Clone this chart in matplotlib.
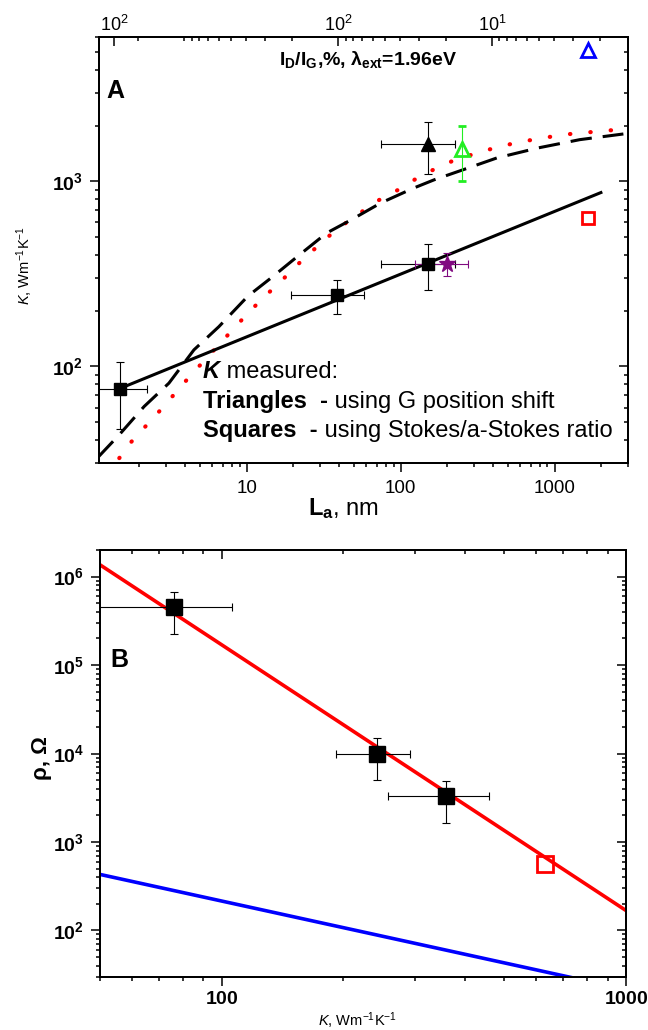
import matplotlib
matplotlib.use("Agg")
import numpy as np
import matplotlib.pyplot as plt
from matplotlib.ticker import (FixedLocator, FixedFormatter, NullFormatter,
                               LogLocator, FuncFormatter)

plt.rcParams['font.family'] = ['Liberation Sans', 'DejaVu Sans']
plt.rcParams['mathtext.fontset'] = 'custom'
plt.rcParams['mathtext.rm'] = 'Liberation Sans'
plt.rcParams['mathtext.it'] = 'Liberation Sans:italic'
plt.rcParams['mathtext.bf'] = 'Liberation Sans:bold'
plt.rcParams['mathtext.default'] = 'regular'

# ---------------- Panel A: thermal conductivity vs crystallite size ----------------
# Stokes/anti-Stokes ratio measurements (squares)
sq_La = [1.5, 38.5, 150]
sq_La_err = [0.75, 19, 75]
sq_K = [76, 242, 358]
sq_K_err = [30, 50, 100]

# G position shift measurement (filled triangle)
tri_La = [150]
tri_La_err = [75]
tri_K = [1600]
tri_K_err = [500]

# open green triangle
grn_La = [252]
grn_K = [1500]
grn_K_err = [500]

# star
star_La = [200]
star_La_err = [75]
star_K = [360]
star_K_err = [50]

# open blue triangle and open red square
blue_La = [1650]
blue_K = [5100]
red_La = [1650]
red_K = [635]

# power-law fit through the squares
fit_La = [1.5, 2000]
fit_K = [76, 870]

# model curves
dash_La = [1.09, 1.49, 2.16, 3.13, 4.55, 6.6, 10.2, 14.8, 21.4, 33.1, 48, 74.3,
           122, 166, 256, 422, 783, 1459, 2800]
dash_K = [32.5, 42.8, 60.8, 81.3, 123, 164, 240, 306, 393, 526, 621, 764,
          921, 1021, 1157, 1338, 1516, 1680, 1803]

dot_La = [1.49, 1.79, 2.77, 4.27, 6.6, 10.2, 13.1, 16.7, 20.8, 33, 42.5, 54.5,
          69.7, 89.4, 115, 147, 227, 372, 575, 1137, 2883]
dot_K = [32, 39.3, 58.4, 88.3, 131, 194, 239, 288, 347, 494, 583, 674,
         780, 866, 988, 1110, 1310, 1483, 1625, 1788, 1919]

# top axis: I_D/I_G (%) related to L_a through I_D/I_G * L_a = const
TK_CONST = 3950.0
top_major = [2850, 100, 10]
top_major_labels = ['10$^{2}$', '10$^{2}$', '10$^{1}$']
top_minor = [2000, 1000, 900, 800, 700, 600, 500, 400, 300, 200,
             90, 80, 70, 60, 50, 40, 30, 20,
             9, 8, 7, 6, 5, 4, 3, 2]

# ---------------- Panel B: resistance vs thermal conductivity ----------------
rho = [4.5e5, 1.0e4, 3300]
rho_err = [2.25e5, 5.0e3, 1650]
red_sq_K = [630]
red_rho = [570]
redline_K = [50, 1000]
redline_rho = [1.36e6, 168]
blueline_K = [50, 1000]
blueline_rho = [430, 21.5]

W, H = 648, 1030


def fx(x):
    return x / W


def fy(y):
    return 1 - y / H


fig = plt.figure(figsize=(W / 100, H / 100), dpi=100)

MAJ_LEN, MIN_LEN, TW = 6.3, 3.2, 1.1
SPINE_W = 1.2


def bold_pow(v, pos):
    if v <= 0:
        return ''
    e = int(round(np.log10(v)))
    return r'$\mathbf{10^{%d}}$' % e


def style_spines(ax):
    for s in ax.spines.values():
        s.set_linewidth(SPINE_W)


def mirror_ticks(ax):
    ax.tick_params(which='both', direction='in', width=TW)
    ax.tick_params(which='major', length=MAJ_LEN)
    ax.tick_params(which='minor', length=MIN_LEN)
    style_spines(ax)


def log_locators(axis):
    axis.set_major_locator(LogLocator(base=10, numticks=20))
    axis.set_minor_locator(LogLocator(base=10, subs=np.arange(2, 10), numticks=20))
    axis.set_minor_formatter(NullFormatter())


# ===== Panel A =====
axA = fig.add_axes([fx(99), fy(463.3), fx(628 - 99), (463.3 - 37.3) / H])
axA.set_xscale('log')
axA.set_yscale('log')
axA.set_xlim(1.1, 3000)
axA.set_ylim(30, 6000)
style_spines(axA)

log_locators(axA.xaxis)
log_locators(axA.yaxis)
axA.xaxis.set_major_formatter(FuncFormatter(lambda v, p: '%g' % v))
axA.yaxis.set_major_formatter(FuncFormatter(bold_pow))
axA.tick_params(which='both', direction='out', top=False, right=False, width=TW)
axA.tick_params(which='major', length=MAJ_LEN)
axA.tick_params(which='minor', length=MIN_LEN)
axA.tick_params(axis='x', which='major', labelsize=13.5, pad=5.5)
axA.tick_params(axis='y', which='major', labelsize=14, pad=5)

# right mirror axis (inward ticks)
axAr = axA.twinx()
axAr.set_yscale('log')
axAr.set_ylim(axA.get_ylim())
log_locators(axAr.yaxis)
axAr.yaxis.set_major_formatter(NullFormatter())
mirror_ticks(axAr)

# top axis in I_D/I_G units
axAt = axA.twiny()
axAt.set_xscale('log')
axAt.set_xlim(axA.get_xlim())
axAt.xaxis.set_major_locator(FixedLocator([TK_CONST / v for v in top_major]))
axAt.xaxis.set_major_formatter(FixedFormatter(top_major_labels))
axAt.xaxis.set_minor_locator(FixedLocator([TK_CONST / v for v in top_minor]))
axAt.xaxis.set_minor_formatter(NullFormatter())
mirror_ticks(axAt)
axAt.tick_params(which='major', labelsize=13, pad=2)

# model curves and fit
axA.plot(dot_La, dot_K, color='red', lw=3.0, linestyle=(0, (0.1, 4.8)),
         dash_capstyle='round', zorder=2)
axA.plot(dash_La, dash_K, color='black', lw=2.2, linestyle=(0, (7, 3.6)), zorder=2)
axA.plot(fit_La, fit_K, color='black', lw=2.2, zorder=3)

eb = dict(elinewidth=0.8, capsize=2.6, capthick=0.8, zorder=4)
axA.errorbar(sq_La, sq_K, xerr=sq_La_err, yerr=sq_K_err, fmt='s', ms=8,
             color='black', ecolor='black', **eb)
axA.errorbar(tri_La, tri_K, xerr=tri_La_err, yerr=tri_K_err, fmt='^', ms=10,
             color='black', ecolor='black', **eb)
axA.errorbar(grn_La, grn_K, yerr=grn_K_err, fmt='^', ms=10, mfc='none',
             mec='#22ee22', mew=2, ecolor='#22ee22', **eb)
axA.errorbar(star_La, star_K, xerr=star_La_err, yerr=star_K_err, fmt='*', ms=12,
             color='#800a80', ecolor='#800a80', **eb)
axA.plot(blue_La, blue_K, '^', ms=10, mfc='none', mec='blue', mew=2, zorder=5)
axA.plot(red_La, red_K, 's', ms=8, mfc='none', mec='red', mew=2, zorder=5)

# panel annotations
fig.text(fx(106.5), fy(98), 'A', fontsize=18, fontweight='bold', va='baseline')
fig.text(fx(279), fy(65), r'I$_\mathbf{D}$/I$_\mathbf{G}$,%, λ$_\mathbf{ext}$=1.96eV',
         fontsize=14, fontweight='bold', va='baseline')
fig.text(fx(25), fy(265), r'$\mathit{K}$, Wm$^{-1}$K$^{-1}$', fontsize=10.5,
         rotation=90, ha='center', va='center')
fig.text(fx(308), fy(515), r'$\mathbf{L_a}$, nm', fontsize=17, va='baseline')

LEG = 17
t1 = fig.text(fx(203), fy(378), 'K', fontsize=LEG, fontweight='bold',
              fontstyle='italic', va='baseline')
t2 = fig.text(fx(203), fy(408.3), 'Triangles  -', fontsize=LEG, fontweight='bold',
              va='baseline')
t3 = fig.text(fx(203), fy(437.3), 'Squares  -', fontsize=LEG, fontweight='bold',
              va='baseline')

# ===== Panel B =====
axB = fig.add_axes([fx(100), fy(976.7), fx(626 - 100), (976.7 - 550) / H])
axB.set_xscale('log')
axB.set_yscale('log')
axB.set_xlim(50, 1000)
axB.set_ylim(30, 2e6)
style_spines(axB)

log_locators(axB.xaxis)
log_locators(axB.yaxis)
axB.xaxis.set_major_formatter(FuncFormatter(lambda v, p: r'$\mathbf{%g}$' % v))
axB.yaxis.set_major_formatter(FuncFormatter(bold_pow))
axB.tick_params(which='both', direction='out', top=False, right=False, width=TW)
axB.tick_params(which='major', length=MAJ_LEN)
axB.tick_params(which='minor', length=MIN_LEN)
axB.tick_params(axis='x', which='major', labelsize=14, pad=4)
axB.tick_params(axis='y', which='major', labelsize=14, pad=5)

axBr = axB.twinx()
axBr.set_yscale('log')
axBr.set_ylim(axB.get_ylim())
log_locators(axBr.yaxis)
axBr.yaxis.set_major_formatter(NullFormatter())
mirror_ticks(axBr)

axBt = axB.twiny()
axBt.set_xscale('log')
axBt.set_xlim(axB.get_xlim())
log_locators(axBt.xaxis)
axBt.xaxis.set_major_formatter(NullFormatter())
mirror_ticks(axBt)

axB.plot(blueline_K, blueline_rho, color='blue', lw=2.6, zorder=2)
axB.plot(redline_K, redline_rho, color='red', lw=2.6, zorder=3)
axB.errorbar(sq_K, rho, xerr=sq_K_err, yerr=rho_err, fmt='s', ms=11,
             color='black', ecolor='black', **eb)
axB.plot(red_sq_K, red_rho, 's', ms=11, mfc='none', mec='red', mew=2, zorder=5)

fig.text(fx(110), fy(667), 'B', fontsize=18, fontweight='bold', va='baseline')
fig.text(fx(42), fy(758), 'ρ, Ω', fontsize=16, fontweight='bold', rotation=90,
         ha='center', va='center')
fig.text(fx(358), fy(1026), r'$\mathit{K}$, Wm$^{-1}$K$^{-1}$', fontsize=10.5,
         ha='center', va='baseline')

# continue the legend lines right after their bold lead-ins
fig.canvas.draw()
r = fig.canvas.get_renderer()
for t, rest in [(t1, ' measured:'), (t2, ' using G position shift'),
                (t3, ' using Stokes/a-Stokes ratio')]:
    bb = t.get_window_extent(renderer=r)
    x0 = bb.x1 / fig.bbox.width
    fig.text(x0, t.get_position()[1], rest, fontsize=LEG, va='baseline')

fig.savefig('out.png', dpi=100)
